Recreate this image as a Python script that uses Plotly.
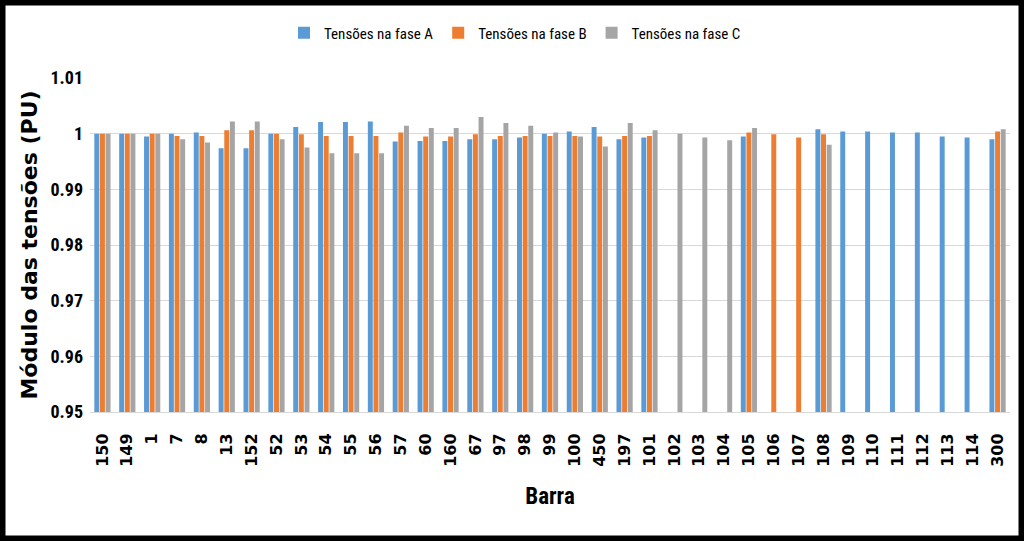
import plotly.graph_objects as go

barras = ["150", "149", "1", "7", "8", "13", "152", "52", "53", "54", "55", "56", "57",
          "60", "160", "67", "97", "98", "99", "100", "450", "197", "101", "102", "103",
          "104", "105", "106", "107", "108", "109", "110", "111", "112", "113", "114", "300"]

fase_a = [1.0000, 1.0000, 0.9995, 1.0000, 1.0002, 0.9974, 0.9974, 1.0000, 1.0012, 1.0021,
          1.0021, 1.0022, 0.9986, 0.9987, 0.9987, 0.9990, 0.9990, 0.9993, 1.0000, 1.0004,
          1.0012, 0.9990, 0.9993, None, None, None, 0.9995, None, None, 1.0008,
          1.0004, 1.0004, 1.0002, 1.0002, 0.9995, 0.9993, 0.9990]
fase_b = [1.0000, 1.0000, 1.0000, 0.9996, 0.9996, 1.0006, 1.0006, 1.0000, 0.9999, 0.9996,
          0.9996, 0.9996, 1.0002, 0.9995, 0.9995, 0.9999, 0.9996, 0.9996, 0.9996, 0.9996,
          0.9995, 0.9996, 0.9996, None, None, None, 1.0002, 0.9999, 0.9993, 0.9999,
          None, None, None, None, None, None, 1.0004]
fase_c = [1.0000, 1.0000, 1.0000, 0.9990, 0.9984, 1.0022, 1.0022, 0.9990, 0.9975, 0.9965,
          0.9965, 0.9965, 1.0014, 1.0010, 1.0010, 1.0030, 1.0019, 1.0014, 1.0002, 0.9995,
          0.9977, 1.0019, 1.0006, 1.0000, 0.9993, 0.9988, 1.0010, None, None, 0.9980,
          None, None, None, None, None, None, 1.0008]

y_ticks = [0.95, 0.96, 0.97, 0.98, 0.99, 1.00, 1.01]
y_labels = ["0.95", "0.96", "0.97", "0.98", "0.99", "1", "1.01"]

W, H = 1024, 541
L, R, T, B = 90, 14, 78, 129
dw, dh = W - L - R, H - T - B

fig = go.Figure()
for name, vals, col in [("Tensões na fase A", fase_a, "#5B9BD5"),
                        ("Tensões na fase B", fase_b, "#ED7D31"),
                        ("Tensões na fase C", fase_c, "#A5A5A5")]:
    fig.add_trace(go.Bar(x=barras, y=vals, name=name, marker_color=col,
                         marker_line_width=0))

narrow = "Liberation Sans Narrow, Arial Narrow, Roboto Condensed, Roboto"
fig.update_layout(
    width=W, height=H,
    margin=dict(l=L, r=R, t=T, b=B),
    paper_bgcolor="white", plot_bgcolor="white",
    barmode="group", bargap=0.32, bargroupgap=0.12,
    legend=dict(orientation="h", x=(515 - L) / dw, xanchor="center",
                y=1 + (T - 33) / dh, yanchor="middle",
                font=dict(family=narrow, size=15, color="black"),
                itemwidth=30, tracegroupgap=0),
    xaxis=dict(type="category", tickangle=-90, showgrid=False,
               tickfont=dict(family="DejaVu Sans", size=16, color="black", weight="bold"),
               ticklabelstandoff=14,
               showline=True, linecolor="#d9d9d9", linewidth=1, ticks="",
               title=dict(text="<b>Barra</b>", font=dict(family=narrow, size=23, color="black"),
                          standoff=22)),
    yaxis=dict(range=[0.95, 1.01], tickvals=y_ticks, ticktext=y_labels,
               showgrid=True, gridcolor="#d9d9d9", gridwidth=1, zeroline=False,
               tickfont=dict(family=narrow, size=18, color="black", weight="bold"),
               ticks="", ticklabelstandoff=6,
               title=dict(text="<b>Módulo das tensões (PU)</b>",
                          font=dict(family="DejaVu Sans", size=22, color="black"),
                          standoff=6)),
    shapes=[dict(type="rect", xref="paper", yref="paper",
                 x0=-L / dw, x1=(W - L) / dw, y0=-B / dh, y1=1 + T / dh,
                 line=dict(color="black", width=11), fillcolor="rgba(0,0,0,0)", layer="above")],
)

fig.write_html("out.html")
